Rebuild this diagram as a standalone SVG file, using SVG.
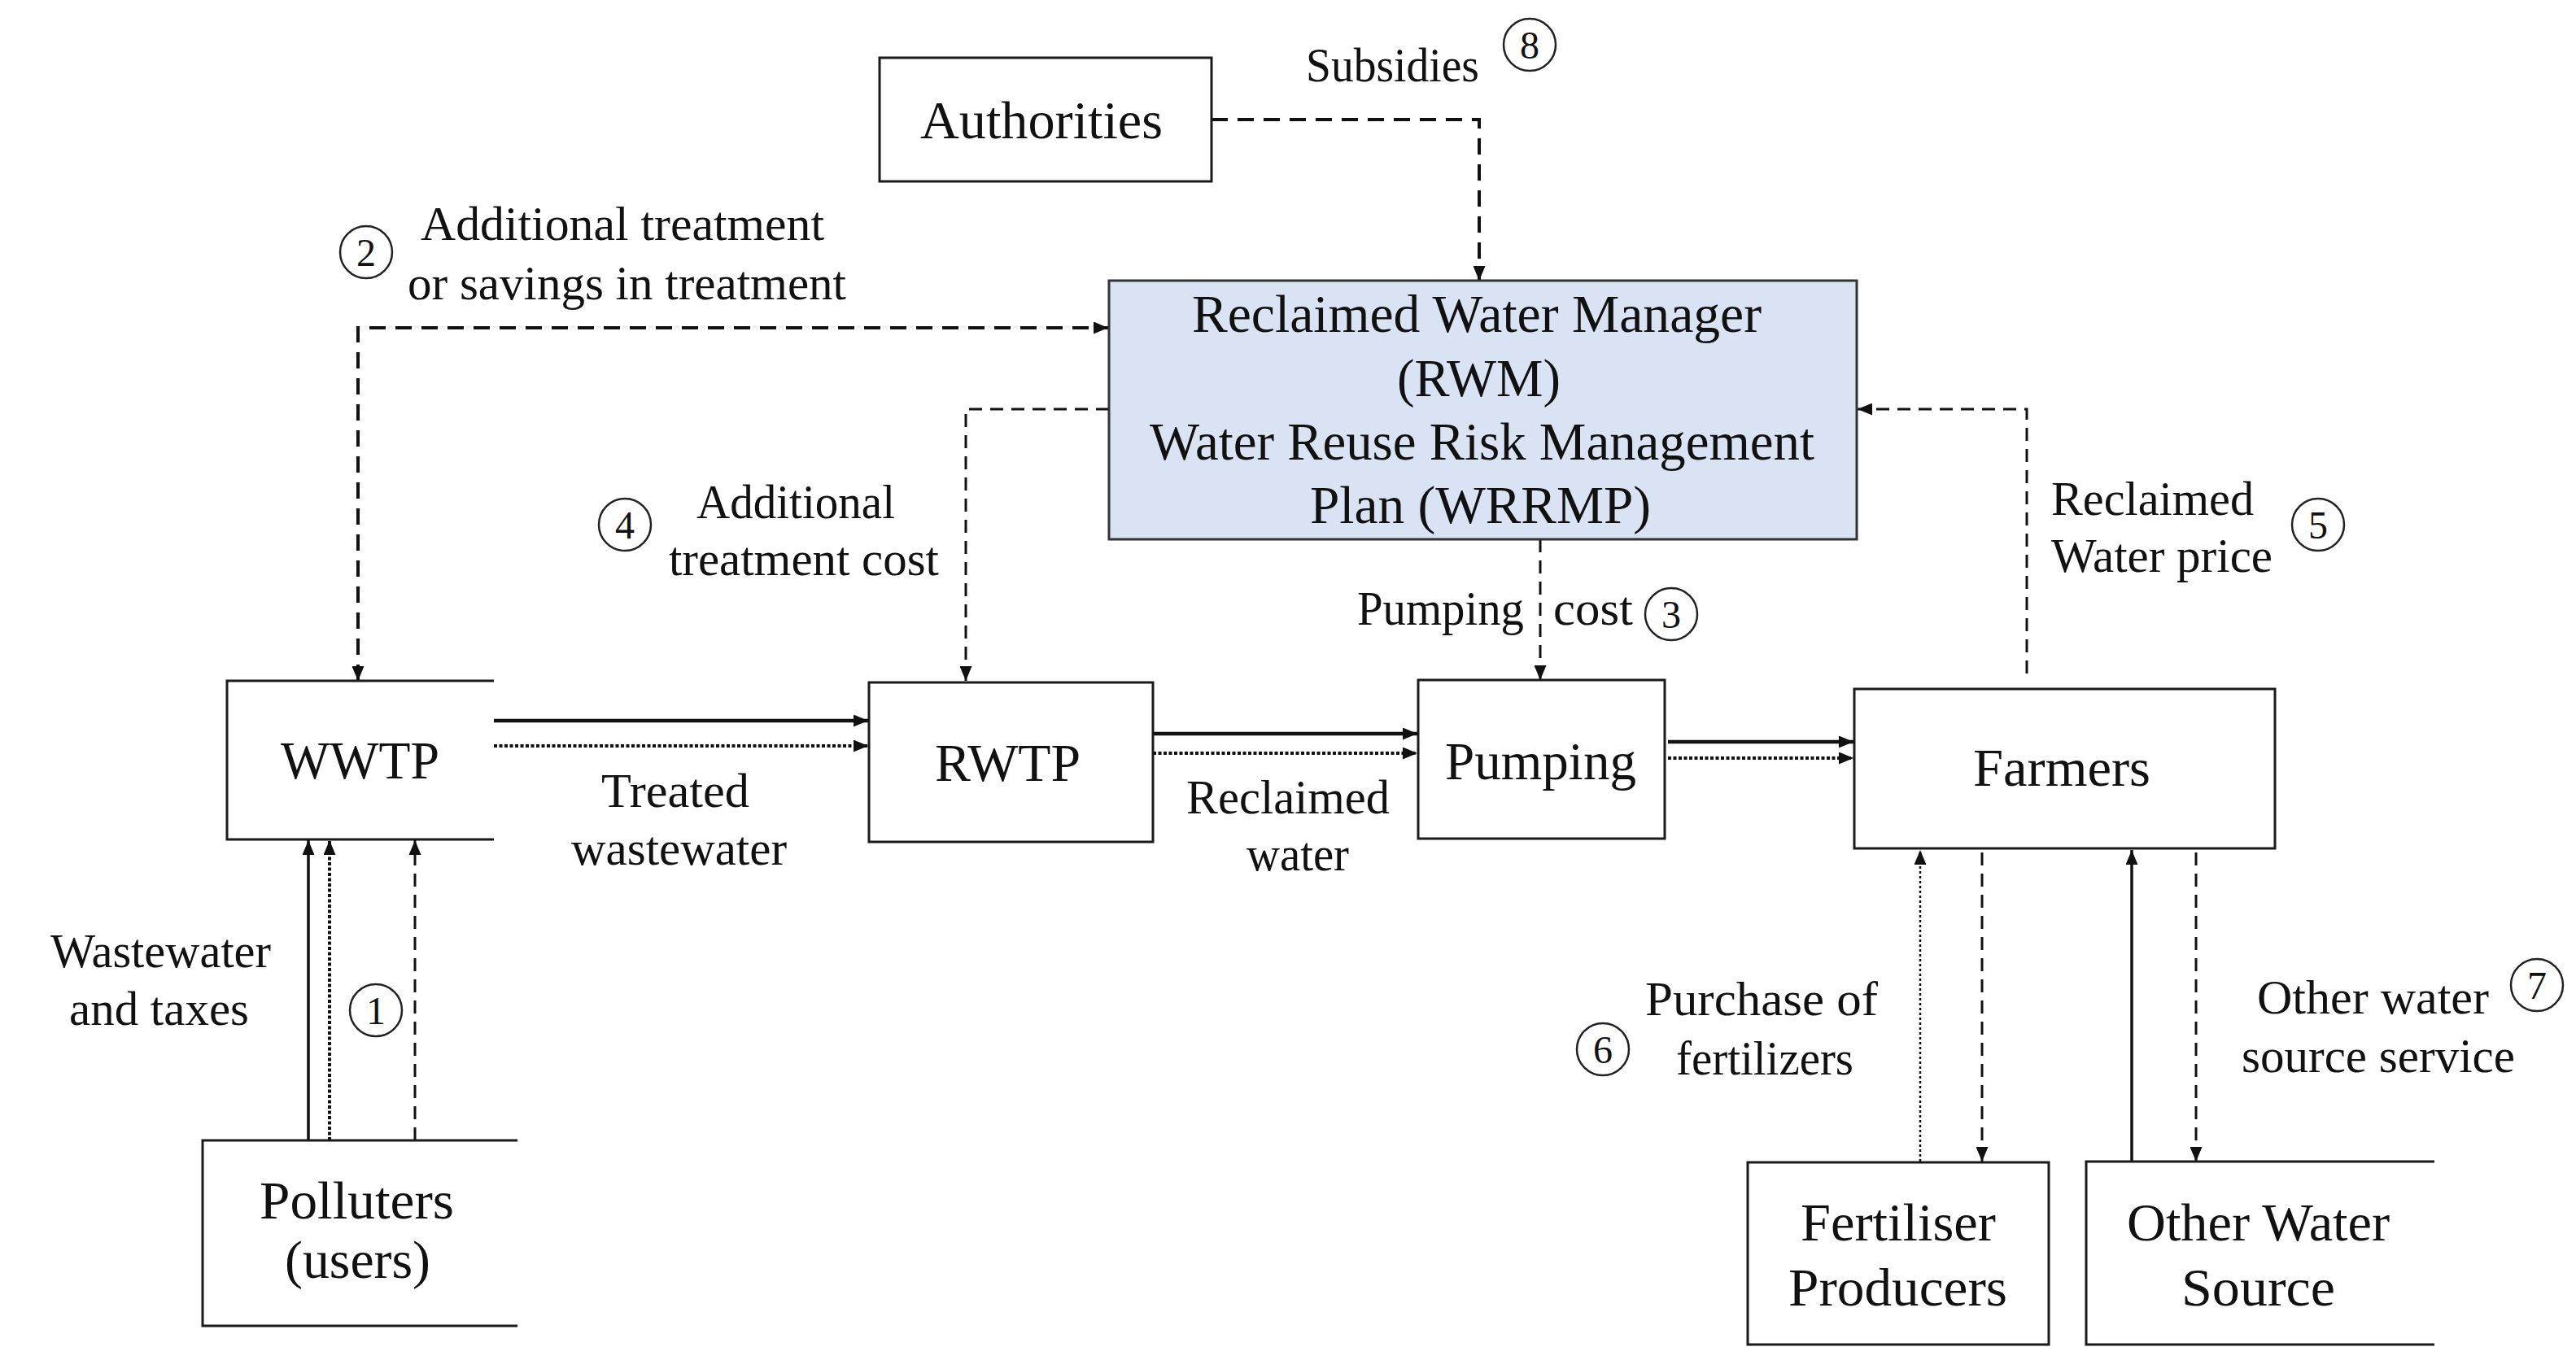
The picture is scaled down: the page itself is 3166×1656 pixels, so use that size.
<svg xmlns="http://www.w3.org/2000/svg" width="3166" height="1656" viewBox="0 0 3166 1656">
<defs>
<style>
.box{fill:#fff;stroke:#1a1a1a;stroke-width:3}
.open{fill:none;stroke:#1a1a1a;stroke-width:3}
.rwm{fill:#dae3f3;stroke:#333;stroke-width:3}
.t{font-family:"Liberation Serif","Times New Roman",serif;fill:#111}
.n{font-size:66px}
.l{font-size:59px}
.num{font-family:"Liberation Serif","Times New Roman",serif;fill:#111;font-size:48px;text-anchor:middle}
.c{fill:none;stroke:#222;stroke-width:2.5}
.solid{fill:none;stroke:#111;stroke-width:4.5}
.solidthin{fill:none;stroke:#111;stroke-width:3.5}
.dot{fill:none;stroke:#111;stroke-width:4;stroke-dasharray:4 2.5}
.dotthin{fill:none;stroke:#111;stroke-width:2.5;stroke-dasharray:3 3}
.dash{fill:none;stroke:#111;stroke-width:4;stroke-dasharray:20 12}
.dashthin{fill:none;stroke:#111;stroke-width:3;stroke-dasharray:16 10}
</style>
<marker id="ah" markerUnits="userSpaceOnUse" viewBox="0 0 18 15" refX="18" refY="7.5" markerWidth="18" markerHeight="15" orient="auto-start-reverse"><path d="M0,0 L18,7.5 L0,15 z" fill="#111"/></marker>
</defs>
<rect width="3166" height="1656" fill="#fff"/>

<g id="connectors">
  <path class="dash" d="M1489,147 H1818 V345" marker-end="url(#ah)"/>
  <path class="dash" d="M440,837 V403 H1362" marker-start="url(#ah)" marker-end="url(#ah)"/>
  <path class="dashthin" d="M1363,503 H1187 V837" marker-end="url(#ah)"/>
  <path class="dashthin" d="M1893,663 V836" marker-end="url(#ah)"/>
  <path class="dashthin" d="M2491,828 V503 H2283" marker-end="url(#ah)"/>
  <path class="solid" d="M607,886 H1067" marker-end="url(#ah)"/>
  <path class="dot" d="M607,917 H1067" marker-end="url(#ah)"/>
  <path class="solid" d="M1417,902 H1742" marker-end="url(#ah)"/>
  <path class="dot" d="M1417,926 H1742" marker-end="url(#ah)"/>
  <path class="solid" d="M2050,912 H2278" marker-end="url(#ah)"/>
  <path class="dot" d="M2050,932 H2278" marker-end="url(#ah)"/>
  <path class="solidthin" d="M379,1402 V1033" marker-end="url(#ah)"/>
  <path class="dot" d="M405,1402 V1033" marker-end="url(#ah)"/>
  <path class="dashthin" d="M510,1402 V1033" marker-end="url(#ah)"/>
  <path class="dotthin" d="M2360,1428 V1045" marker-end="url(#ah)"/>
  <path class="dashthin" d="M2436,1048 V1428" marker-end="url(#ah)"/>
  <path class="solidthin" d="M2620,1428 V1045" marker-end="url(#ah)"/>
  <path class="dashthin" d="M2699,1048 V1428" marker-end="url(#ah)"/>
</g>

<g id="authorities">
  <rect class="box" x="1081" y="71" width="408" height="152"/>
  <text class="t n" x="1131" y="170" textLength="298" lengthAdjust="spacingAndGlyphs">Authorities</text>
</g>
<g id="rwm">
  <rect class="rwm" x="1363" y="345" width="919" height="318"/>
  <text class="t n" x="1465" y="408" textLength="700" lengthAdjust="spacingAndGlyphs">Reclaimed Water Manager</text>
  <text class="t n" x="1717" y="487" textLength="201" lengthAdjust="spacingAndGlyphs">(RWM)</text>
  <text class="t n" x="1413" y="565" textLength="817" lengthAdjust="spacingAndGlyphs">Water Reuse Risk Management</text>
  <text class="t n" x="1610" y="643" textLength="419" lengthAdjust="spacingAndGlyphs">Plan (WRRMP)</text>
</g>
<g id="wwtp">
  <path class="open" d="M607,837 H279 V1032 H607"/>
  <text class="t n" x="345" y="957" textLength="195" lengthAdjust="spacingAndGlyphs">WWTP</text>
</g>
<g id="rwtp">
  <rect class="box" x="1068" y="839" width="349" height="196"/>
  <text class="t n" x="1149" y="960" textLength="179" lengthAdjust="spacingAndGlyphs">RWTP</text>
</g>
<g id="pumping">
  <rect class="box" x="1743" y="836" width="303" height="195"/>
  <text class="t n" x="1776" y="958" textLength="235" lengthAdjust="spacingAndGlyphs">Pumping</text>
</g>
<g id="farmers">
  <rect class="box" x="2279" y="847" width="517" height="196"/>
  <text class="t n" x="2425" y="966" textLength="218" lengthAdjust="spacingAndGlyphs">Farmers</text>
</g>
<g id="polluters">
  <path class="open" d="M636,1402 H249 V1630 H636"/>
  <text class="t n" x="319" y="1498" textLength="239" lengthAdjust="spacingAndGlyphs">Polluters</text>
  <text class="t n" x="350" y="1571" textLength="179" lengthAdjust="spacingAndGlyphs">(users)</text>
</g>
<g id="fertiliser-producers">
  <rect class="box" x="2148" y="1429" width="370" height="224"/>
  <text class="t n" x="2213" y="1525" textLength="240" lengthAdjust="spacingAndGlyphs">Fertiliser</text>
  <text class="t n" x="2198" y="1605" textLength="269" lengthAdjust="spacingAndGlyphs">Producers</text>
</g>
<g id="other-water-source">
  <path class="open" d="M2992,1428 H2564 V1653 H2992"/>
  <text class="t n" x="2614" y="1525" textLength="323" lengthAdjust="spacingAndGlyphs">Other Water</text>
  <text class="t n" x="2681" y="1605" textLength="189" lengthAdjust="spacingAndGlyphs">Source</text>
</g>

<g id="labels">
  <text class="t l" x="1605" y="100" textLength="213" lengthAdjust="spacingAndGlyphs">Subsidies</text>
  <circle class="c" cx="1880" cy="55" r="32"/><text class="num" x="1880" y="72">8</text>

  <circle class="c" cx="450" cy="310" r="32"/><text class="num" x="450" y="327">2</text>
  <text class="t l" x="517" y="295" textLength="496" lengthAdjust="spacingAndGlyphs">Additional treatment</text>
  <text class="t l" x="501" y="368" textLength="539" lengthAdjust="spacingAndGlyphs">or savings in treatment</text>

  <circle class="c" cx="768" cy="645" r="32"/><text class="num" x="768" y="662">4</text>
  <text class="t l" x="856" y="637" textLength="244" lengthAdjust="spacingAndGlyphs">Additional</text>
  <text class="t l" x="822" y="707" textLength="332" lengthAdjust="spacingAndGlyphs">treatment cost</text>

  <text class="t l" x="739" y="992" textLength="182" lengthAdjust="spacingAndGlyphs">Treated</text>
  <text class="t l" x="702" y="1063" textLength="265" lengthAdjust="spacingAndGlyphs">wastewater</text>

  <text class="t l" x="1458" y="1000" textLength="250" lengthAdjust="spacingAndGlyphs">Reclaimed</text>
  <text class="t l" x="1532" y="1070" textLength="126" lengthAdjust="spacingAndGlyphs">water</text>

  <text class="t l" x="1668" y="768" textLength="205" lengthAdjust="spacingAndGlyphs">Pumping</text>
  <text class="t l" x="1909" y="768" textLength="98" lengthAdjust="spacingAndGlyphs">cost</text>
  <circle class="c" cx="2054" cy="755" r="32"/><text class="num" x="2054" y="772">3</text>

  <text class="t l" x="2521" y="633" textLength="249" lengthAdjust="spacingAndGlyphs">Reclaimed</text>
  <text class="t l" x="2521" y="703" textLength="272" lengthAdjust="spacingAndGlyphs">Water price</text>
  <circle class="c" cx="2849" cy="645" r="32"/><text class="num" x="2849" y="662">5</text>

  <text class="t l" x="62" y="1189" textLength="271" lengthAdjust="spacingAndGlyphs">Wastewater</text>
  <text class="t l" x="85" y="1260" textLength="221" lengthAdjust="spacingAndGlyphs">and taxes</text>
  <circle class="c" cx="462" cy="1242" r="32"/><text class="num" x="462" y="1259">1</text>

  <circle class="c" cx="1970" cy="1290" r="32"/><text class="num" x="1970" y="1307">6</text>
  <text class="t l" x="2022" y="1248" textLength="286" lengthAdjust="spacingAndGlyphs">Purchase of</text>
  <text class="t l" x="2060" y="1321" textLength="218" lengthAdjust="spacingAndGlyphs">fertilizers</text>

  <text class="t l" x="2774" y="1246" textLength="285" lengthAdjust="spacingAndGlyphs">Other water</text>
  <text class="t l" x="2755" y="1318" textLength="336" lengthAdjust="spacingAndGlyphs">source service</text>
  <circle class="c" cx="3118" cy="1211" r="32"/><text class="num" x="3118" y="1228">7</text>
</g>
</svg>
